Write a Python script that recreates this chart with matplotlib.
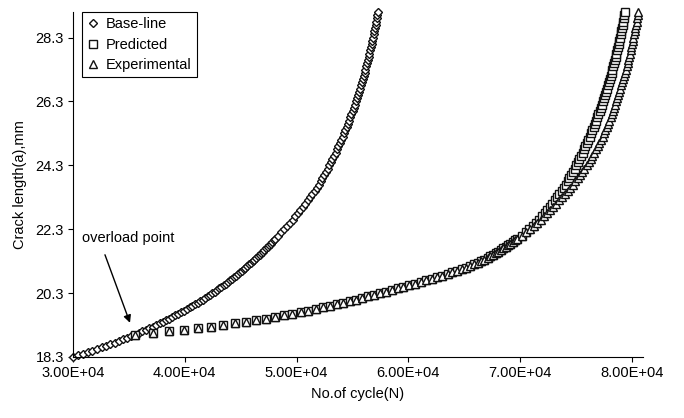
import matplotlib
matplotlib.use("Agg")
import matplotlib.pyplot as plt
from matplotlib.ticker import FuncFormatter

plt.rcParams["font.family"] = ["Liberation Sans", "DejaVu Sans"]

# ---------------- data ----------------
# Base-line (constant amplitude) crack growth
baseline_crack_mm = [
    18.30, 18.35, 18.40, 18.45, 18.50, 18.55, 18.60, 18.65, 18.70, 18.75,
    18.80, 18.85, 18.90, 18.95, 19.00, 19.05, 19.10, 19.15, 19.20, 19.25,
    19.30, 19.35, 19.40, 19.45, 19.50, 19.55, 19.60, 19.65, 19.70, 19.75,
    19.80, 19.85, 19.90, 19.95, 20.00, 20.05, 20.10, 20.15, 20.20, 20.25,
    20.30, 20.35, 20.40, 20.45, 20.50, 20.55, 20.60, 20.65, 20.70, 20.75,
    20.80, 20.85, 20.90, 20.95, 21.00, 21.05, 21.10, 21.15, 21.20, 21.25,
    21.30, 21.35, 21.40, 21.45, 21.50, 21.55, 21.60, 21.65, 21.70, 21.75,
    21.80, 21.85, 21.90, 21.95, 22.00,
    22.1, 22.2, 22.3, 22.4, 22.5, 22.6, 22.7, 22.8, 22.9, 23.0,
    23.1, 23.2, 23.3, 23.4, 23.5, 23.6, 23.7, 23.8, 23.9, 24.0,
    24.1, 24.2, 24.3, 24.4, 24.5, 24.6, 24.7, 24.8, 24.9, 25.0,
    25.1, 25.2, 25.3, 25.4, 25.5, 25.6, 25.7, 25.8, 25.9, 26.0,
    26.1, 26.2, 26.3, 26.4, 26.5, 26.6, 26.7, 26.8, 26.9, 27.0,
    27.1, 27.2, 27.3, 27.4, 27.5, 27.6, 27.7, 27.8, 27.9, 28.0,
    28.1, 28.2, 28.3, 28.4, 28.5, 28.6, 28.7, 28.8, 28.9, 29.0,
    29.1,
]
baseline_cycles = [
    30000, 30445, 30889, 31315, 31740, 32148, 32556, 32948, 33340, 33718,
    34095, 34459, 34822, 35173, 35524, 35861, 36198, 36520, 36842, 37151,
    37459, 37755, 38050, 38335, 38619, 38893, 39166, 39430, 39693, 39948,
    40202, 40447, 40692, 40928, 41163, 41390, 41617, 41836, 42055, 42267,
    42478, 42683, 42887, 43085, 43283, 43475, 43666, 43852, 44038, 44219,
    44400, 44576, 44752, 44924, 45095, 45263, 45430, 45594, 45757, 45917,
    46076, 46232, 46387, 46539, 46691, 46840, 46988, 47134, 47279, 47422,
    47564, 47704, 47843, 47980, 48116,
    48384, 48646, 48903, 49155, 49402, 49644, 49881, 50114, 50342, 50566,
    50786, 51001, 51212, 51418, 51620, 51810, 51985, 52150, 52312, 52470,
    52625, 52776, 52925, 53070, 53213, 53352, 53489, 53622, 53753, 53880,
    54005, 54127, 54246, 54363, 54478, 54590, 54700, 54807, 54912, 55015,
    55116, 55214, 55311, 55405, 55497, 55587, 55675, 55761, 55846, 55928,
    56009, 56088, 56166, 56242, 56315, 56387, 56457, 56526, 56593, 56658,
    56722, 56784, 56845, 56904, 56961, 57018, 57072, 57126, 57178, 57228,
    57277,
]

# Crack lengths after the overload (shared by predicted and experimental)
post_overload_crack_mm = [
    19.00, 19.05, 19.10, 19.15, 19.20, 19.25, 19.30, 19.35, 19.40, 19.45,
    19.50, 19.55, 19.60, 19.65, 19.70, 19.75, 19.80, 19.85, 19.90, 19.95,
    20.00, 20.05, 20.10, 20.15, 20.20, 20.25, 20.30, 20.35, 20.40, 20.45,
    20.50, 20.55, 20.60, 20.65, 20.70, 20.75, 20.80, 20.85, 20.90, 20.95,
    21.00, 21.05, 21.10, 21.15, 21.20, 21.25, 21.30, 21.35, 21.40, 21.45,
    21.50, 21.55, 21.60, 21.65, 21.70, 21.75, 21.80, 21.85, 21.90, 21.95,
    22.00,
    22.1, 22.2, 22.3, 22.4, 22.5, 22.6, 22.7, 22.8, 22.9, 23.0,
    23.1, 23.2, 23.3, 23.4, 23.5, 23.6, 23.7, 23.8, 23.9, 24.0,
    24.1, 24.2, 24.3, 24.4, 24.5, 24.6, 24.7, 24.8, 24.9, 25.0,
    25.1, 25.2, 25.3, 25.4, 25.5, 25.6, 25.7, 25.8, 25.9, 26.0,
    26.1, 26.2, 26.3, 26.4, 26.5, 26.6, 26.7, 26.8, 26.9, 27.0,
    27.1, 27.2, 27.3, 27.4, 27.5, 27.6, 27.7, 27.8, 27.9, 28.0,
    28.1, 28.2, 28.3, 28.4, 28.5, 28.6, 28.7, 28.8, 28.9, 29.0,
    29.1,
]
# Retardation zone, where prediction and test coincide
retardation_cycles = [
    35524, 37152, 38582, 39923, 41175, 42337, 43437, 44474, 45457, 46387,
    47263, 48094, 48881, 49632, 50356, 51053, 51724, 52368, 52994, 53602,
    54192, 54764, 55318, 55863, 56400, 56927, 57446, 57982, 58510, 59037,
    59556, 60074, 60584, 61093, 61594, 62095, 62586, 63060, 63516, 63954,
    64374, 64777, 65161, 65528, 65876, 66207, 66520, 66815, 67093, 67352,
    67593, 67826, 68054, 68277, 68496, 68710, 68923, 69134, 69343, 69551,
    69756,
]
predicted_tail_cycles = [
    70144, 70506, 70843, 71155, 71442, 71714, 71971, 72214, 72442, 72666,
    72886, 73101, 73312, 73518, 73720, 73910, 74085, 74250, 74412, 74570,
    74725, 74876, 75025, 75170, 75313, 75452, 75589, 75722, 75853, 75980,
    76105, 76227, 76346, 76463, 76578, 76690, 76800, 76907, 77012, 77115,
    77216, 77314, 77411, 77505, 77597, 77687, 77775, 77861, 77946, 78028,
    78109, 78188, 78266, 78342, 78415, 78487, 78557, 78626, 78693, 78758,
    78822, 78884, 78945, 79004, 79061, 79118, 79172, 79226, 79278, 79328,
    79377,
]
experimental_tail_cycles = [
    70164, 70546, 70903, 71235, 71542, 71854, 72151, 72434, 72702, 72966,
    73236, 73501, 73762, 74018, 74270, 74510, 74735, 74950, 75162, 75370,
    75565, 75756, 75945, 76130, 76313, 76477, 76639, 76797, 76953, 77100,
    77240, 77377, 77506, 77633, 77758, 77875, 77990, 78102, 78212, 78315,
    78416, 78514, 78611, 78705, 78797, 78887, 78975, 79061, 79146, 79228,
    79309, 79388, 79466, 79542, 79615, 79687, 79757, 79826, 79893, 79958,
    80022, 80084, 80145, 80204, 80261, 80318, 80372, 80426, 80478, 80528,
    80577,
]
predicted_cycles = retardation_cycles + predicted_tail_cycles
experimental_cycles = retardation_cycles + experimental_tail_cycles

x_ticks = [30000, 40000, 50000, 60000, 70000, 80000]
y_ticks = [18.3, 20.3, 22.3, 24.3, 26.3, 28.3]

# ---------------- figure ----------------
W, H = 684, 418
fig = plt.figure(figsize=(W / 100, H / 100), dpi=100)
ax = fig.add_axes([73 / W, 1 - 357 / H, 570 / W, 345 / H])

style = dict(linestyle="none", markerfacecolor="white", markeredgecolor="#111111",
             markeredgewidth=1.0, clip_on=False)
ax.plot(baseline_cycles, baseline_crack_mm, marker="D", markersize=4.0,
        label="Base-line", **style)
ax.plot(predicted_cycles, post_overload_crack_mm, marker="s", markersize=5.5,
        label="Predicted", **style)
ax.plot(experimental_cycles, post_overload_crack_mm, marker="^", markersize=6.0,
        label="Experimental", **style)

ax.set_xlim(30000, 81000)
ax.set_ylim(18.3, 29.1)
ax.set_xticks(x_ticks)
ax.set_yticks(y_ticks)
ax.xaxis.set_major_formatter(FuncFormatter(lambda v, p: f"{v:.2E}"))
ax.yaxis.set_major_formatter(FuncFormatter(lambda v, p: f"{v:.1f}"))

for side in ("top", "right"):
    ax.spines[side].set_visible(False)
for side in ("left", "bottom"):
    ax.spines[side].set_linewidth(0.8)
ax.tick_params(direction="out", length=3.5, width=0.8, labelsize=10.5, pad=3)

ax.set_xlabel("No.of cycle(N)", fontsize=10.5, labelpad=5)
ax.set_ylabel("Crack length(a),mm", fontsize=10.5, labelpad=6)

leg = ax.legend(loc="upper left", bbox_to_anchor=(9 / 570, 1.0), frameon=True,
                fancybox=False, edgecolor="black", framealpha=1,
                borderaxespad=0, handlelength=0.8, handletextpad=0.5,
                labelspacing=0.45, borderpad=0.35, fontsize=10.5)
leg.get_frame().set_linewidth(0.8)

ax.text(30800, 22.01, "overload point", fontsize=10.5, ha="left", va="center")
ax.annotate("", xy=(35100, 19.37), xytext=(32860, 21.5),
            arrowprops=dict(arrowstyle="-|>", color="black", lw=1.0,
                            mutation_scale=11, shrinkA=0, shrinkB=0))

fig.savefig("out.png", dpi=100)
